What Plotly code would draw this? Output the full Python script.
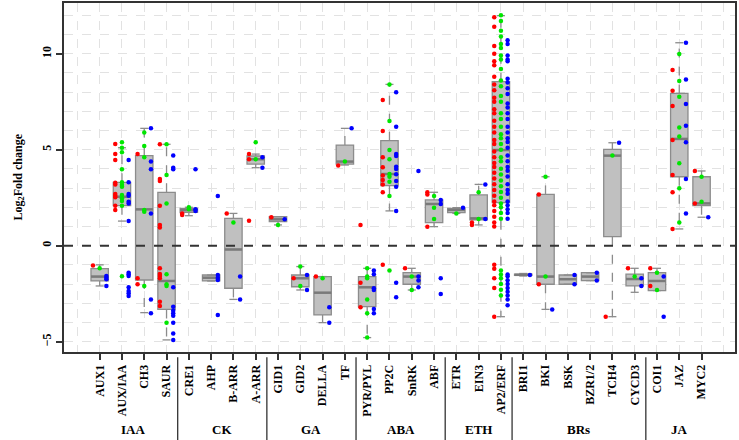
import plotly.graph_objects as go

categories = ['AUX1', 'AUX/IAA', 'CH3', 'SAUR',
              'CRE1', 'AHP', 'B-ARR', 'A-ARR',
              'GID1', 'GID2', 'DELLA', 'TF',
              'PYR/PYL', 'PP2C', 'SnRK', 'ABF',
              'ETR', 'EIN3', 'AP2/ERF',
              'BRI1', 'BKI', 'BSK', 'BZR1/2', 'TCH4', 'CYCD3',
              'COI1', 'JAZ', 'MYC2']
group_names = ['IAA', 'CK', 'GA', 'ABA', 'ETH', 'BRs', 'JA']
group_sizes = [4, 4, 4, 4, 3, 6, 3]

# box stats
lower = [-2.1, 1.28, -3.49, -4.91, 1.56, -1.84, -2.8, 4.06, 1.08, -2.31, -4.01, 4.2, -4.79, 1.81,
         -2.31, 0.99, 1.68, 1.08, -3.7, -1.58, -3.32, -2.01, -1.82, -3.7, -2.43, -2.34, 0.87, 1.48]
q1 = [-1.84, 2.08, -1.79, -3.32, 1.74, -1.84, -2.22, 4.25, 1.25, -2.14, -3.61, 4.25, -3.18, 3.13,
      -2.01, 1.2, 1.72, 1.34, 2.24, -1.55, -2.01, -2.01, -1.82, 0.47, -2.1, -2.34, 3.59, 2.08]
median = [-1.61, 2.55, 1.89, -1.84, 1.86, -1.67, -0.2, 4.5, 1.37, -1.7, -2.45, 4.38, -2.17, 3.73,
          -1.61, 2.17, 1.86, 1.42, 4.98, -1.52, -1.61, -1.75, -1.61, 4.69, -1.74, -1.84, 5.56, 2.2]
q3 = [-1.2, 3.3, 4.69, 2.78, 1.94, -1.53, 1.42, 4.67, 1.51, -1.53, -1.61, 5.24, -1.61, 5.47,
      -1.41, 2.38, 1.94, 2.64, 8.54, -1.48, 2.67, -1.53, -1.41, 5.02, -1.48, -1.41, 7.93, 3.59]
upper = [-1.0, 5.1, 6.11, 5.28, 2.0, -1.53, 1.68, 4.77, 1.51, -1.09, -1.61, 6.11, -1.18, 8.4,
         -1.18, 2.78, 1.98, 3.19, 11.98, -1.45, 3.59, -1.53, -1.41, 5.36, -1.18, -1.18, 10.57, 3.89]

red_pts = [
    [-1.04],
    [5.3, 4.77, 4.46, 3.28, 3.19, 2.69, 2.6, 2.52, 2.08, 1.86],
    [4.77, -1.7, -2.01],
    [5.28, 3.47, 3.37, 2.08, 1.08, 0.95, -1.18, -1.48, -1.58, -1.7, -2.92, -3.14],
    [1.68, 1.6],
    [],
    [1.68],
    [4.77, 4.5, 1.3],
    [1.48],
    [-1.7],
    [-1.61],
    [4.17],
    [1.08, -1.93, -3.21],
    [7.59, 5.97, 4.6, 4.08, 3.65, 3.42, 3.19, 2.78, -1.0],
    [-1.18],
    [2.78, 2.67, 0.99],
    [],
    [1.2, 1.08],
    [11.9, 11.4, 10.4, 10.0, 9.6, 9.4, 8.8, 8.4, 8.1, 7.7, 7.5, 7.1, 6.9, 6.5,
     6.2, 5.9, 5.5, 5.3, 4.9, 4.6, 4.3, 4.1, 3.8, 3.5, 3.2,
     2.9, 2.6, 2.3, 2.1, 1.8, 1.5, 1.2, 1.0, -1.0, -1.2, -1.7, -2.2, -3.7],
    [],
    [2.67, -2.01],
    [],
    [],
    [-3.7],
    [-1.18],
    [-1.18, -2.1],
    [9.15, 8.07, 7.27, 5.5, 3.68, 2.78, 0.87],
    [3.89, 2.2],
]
green_pts = [
    [-1.18],
    [5.38, 5.1, 4.86, 3.98, 3.3, 3.16, 3.07, 2.64, 2.47, 2.33, 2.08, -1.6],
    [5.89, 5.19, 4.6, 1.86, 1.77, -2.1],
    [5.28, 3.68, 2.2, -1.49, -2.01, -2.1, -4.01],
    [2.0, 1.89],
    [],
    [1.2],
    [5.38, 4.5],
    [1.08],
    [-1.09, -2.1],
    [-1.7],
    [4.38],
    [-1.18, -1.61, -1.7, -2.8, -3.52, -4.79],
    [8.4, 6.49, 4.98, 4.5, 3.73, 3.59, 3.33, 2.59, -1.3],
    [-1.61, -2.31],
    [2.59, 1.98, 1.39],
    [1.68],
    [2.78, 1.39],
    [12.0, 11.7, 11.2, 10.9, 10.5, 10.3, 9.9, 9.7, 9.2, 8.6, 8.3, 7.8, 7.5,
     6.9, 6.6, 6.2, 5.8, 5.6, 5.3, 5.0, 4.6, 4.4, 4.0, 3.7, 3.4,
     3.1, 2.8, 2.5, 2.2, 2.0, 1.7, 1.4, -1.3, -1.5, -1.7, -2.0, -2.3, -2.6],
    [],
    [3.59, -1.61],
    [],
    [],
    [4.69],
    [-1.61],
    [-1.41, -2.31],
    [9.98, 8.58, 7.76, 6.16, 5.68, 4.29, 2.99, 1.2],
    [3.59, 2.29],
]
blue_pts = [
    [-1.58, -1.67, -1.75, -2.1],
    [4.46, 3.3, 2.69, 2.6, 2.29, 2.2, 1.28, -1.41, -1.49, -1.58, -2.17, -2.36, -2.48, -2.62],
    [6.11, 4.38, 3.98, 1.68, -2.8, -3.52],
    [4.69, 4.06, 3.98, -2.17, -3.18, -3.39, -3.52, -3.65, -4.01, -4.57, -4.91],
    [1.89, 1.8, 3.98],
    [2.59, -1.53, -1.67, -1.79, -3.61],
    [-1.61, -2.8],
    [4.6, 4.06],
    [1.37],
    [-1.53, -2.31],
    [-3.21, -4.01],
    [6.11],
    [-1.3, -1.49, -2.22, -2.31, -3.3, -3.52],
    [7.99, 6.2, 4.77, 4.67, 4.11, 3.99, 3.72, 3.37, 3.07, 1.81, -1.93, -2.69],
    [3.89, -1.61, -1.82, -2.17],
    [2.38, 2.17, -1.7, -2.52],
    [1.98],
    [3.19, 1.39],
    [10.7, 10.5, 9.9, 9.7, 9.6, 8.7, 8.5, 8.2, 7.9, 7.4, 7.2, 6.9, 6.6, 6.2, 5.9,
     5.6, 5.4, 5.1, 4.7, 4.4, 4.1, 3.9, 3.6, 3.2, 2.9, 2.7, 2.3, 2.1, 1.9,
     1.7, 1.4, -1.5, -1.6, -1.8, -2.0, -2.2, -2.4, -2.6, -2.8, -3.1],
    [-1.53],
    [-3.32],
    [-1.53, -2.01],
    [-1.41, -1.82],
    [5.36],
    [-1.7, -2.1],
    [-1.61, -3.7],
    [10.57, 8.66, 7.38, 6.25, 5.38, 3.47, 1.68],
    [1.48],
]

serif = 'Liberation Serif'
pos = list(range(len(categories)))
cap = 0.18

fig = go.Figure()

# dashed whiskers + caps
wx, wy, cx, cy = [], [], [], []
for i in pos:
    wx += [i, i, None, i, i, None]
    wy += [q3[i], upper[i], None, q1[i], lower[i], None]
    for v in (upper[i], lower[i]):
        cx += [i - cap, i + cap, None]
        cy += [v, v, None]
fig.add_trace(go.Scatter(x=wx, y=wy, mode='lines', line=dict(color='#8c8c8c', width=1.3, dash='dash'),
                         hoverinfo='skip', showlegend=False))
fig.add_trace(go.Scatter(x=cx, y=cy, mode='lines', line=dict(color='#8c8c8c', width=1.3),
                         hoverinfo='skip', showlegend=False))

fig.add_trace(go.Box(x=pos, q1=q1, median=median, q3=q3, lowerfence=q1, upperfence=q3,
                     width=0.78, fillcolor='#c0c0c0', line=dict(color='#8c8c8c', width=1.3),
                     boxpoints=False, showlegend=False))

# darker median bars
mx, my = [], []
for i in pos:
    mx += [i - 0.39, i + 0.39, None]
    my += [median[i], median[i], None]
fig.add_trace(go.Scatter(x=mx, y=my, mode='lines', line=dict(color='#7a7a7a', width=2.5),
                         hoverinfo='skip', showlegend=False))

for pts, col, off in [(red_pts, '#ff0000', -0.3), (green_pts, '#00e600', 0.0), (blue_pts, '#0000ff', 0.3)]:
    xs, ys = [], []
    for i, vals in enumerate(pts):
        xs += [i + off] * len(vals)
        ys += vals
    fig.add_trace(go.Scatter(x=xs, y=ys, mode='markers', marker=dict(color=col, size=4.5),
                             showlegend=False))

fig.add_hline(y=0, line=dict(color='#333333', width=2, dash='dash'))

# hormone groups under the axis
start = 0
for name, n in zip(group_names, group_sizes):
    fig.add_annotation(x=start + (n - 1) / 2, y=-0.221, xref='x', yref='paper', text=name,
                       showarrow=False, yanchor='middle',
                       font=dict(family=serif, size=13, color='black', weight='bold'))
    start += n
    if start < len(categories):
        fig.add_shape(type='line', xref='x', yref='paper', x0=start - 0.5, x1=start - 0.5,
                      y0=-0.015, y1=-0.26, line=dict(color='#333333', width=1.3))

fig.add_annotation(x=0, y=0.5, xref='paper', yref='paper', xshift=-56, textangle=-90,
                   text='Log<sub>2</sub>Fold change', showarrow=False,
                   font=dict(family=serif, size=12, color='black', weight='bold'))

grid = dict(showgrid=True, gridcolor='#e2e2e2', griddash='dash', gridwidth=1)
fig.update_xaxes(range=[-1.6, 28.5], tickmode='array', tickvals=pos, ticktext=categories,
                 tickangle=-90, ticks='outside', ticklen=6, tickwidth=1.5, tickcolor='#333333',
                 tickfont=dict(family=serif, size=12, color='black', weight='bold'),
                 showline=True, linecolor='#333333', linewidth=2, mirror=True, zeroline=False,
                 automargin=False, minor=dict(dtick=1, tick0=0, **grid), **grid)
fig.update_yaxes(range=[-5.54, 12.64], tickvals=[-5, 0, 5, 10], tickangle=-90,
                 ticks='outside', ticklen=6, tickwidth=1.5, tickcolor='#333333',
                 tickfont=dict(family=serif, size=12, color='black', weight='bold'),
                 showline=True, linecolor='#333333', linewidth=2, mirror=True, zeroline=False,
                 automargin=False, minor=dict(dtick=1, tick0=0, **grid), **grid)
fig.update_layout(width=739, height=440, margin=dict(l=64, r=4, t=3, b=88),
                  plot_bgcolor='white', paper_bgcolor='white')

fig.write_html("out.html", config=dict(displayModeBar=False),
               post_script="document.body.style.margin='0';")
